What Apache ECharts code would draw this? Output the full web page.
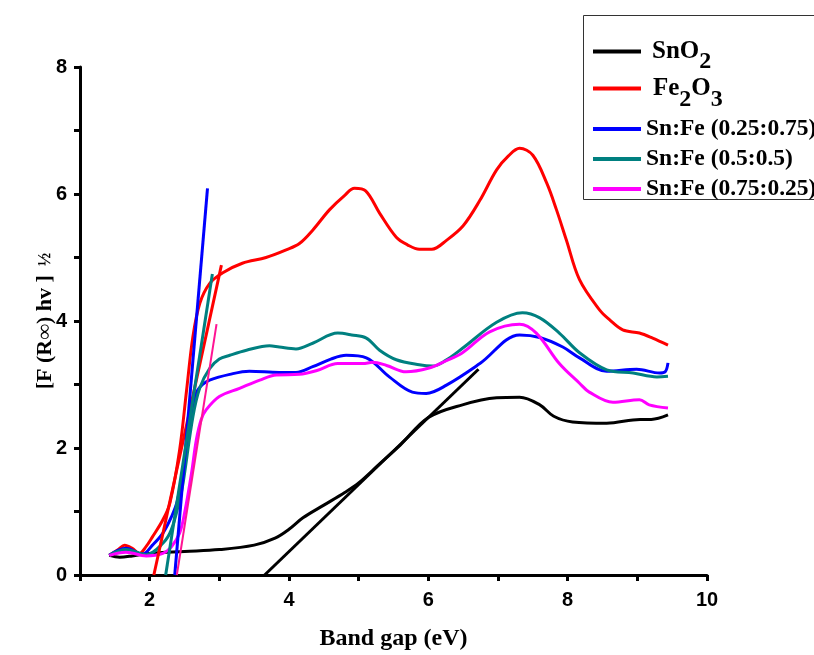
<!DOCTYPE html>
<html>
<head>
  <meta charset="UTF-8">
  <title>band-gap</title>
  <style>
    html, body { margin:0; padding:0; background:#fff; }
    #chart { width:814px; height:655px; }
  </style>
</head>
<body>
  <div id="chart"></div>
  <script src="https://cdn.jsdelivr.net/npm/echarts@6/dist/echarts.min.js"></script>
  <script>
    // SnO2
    var sno2X = [1.42, 1.57, 1.75, 2.0, 2.5, 3.0, 3.5, 3.8, 4.0, 4.2, 4.5, 4.8, 5.0, 5.3, 5.6, 6.0, 6.49, 6.98, 7.31, 7.6, 7.8, 8.07, 8.56, 9.04, 9.2, 9.44]
    var sno2Y = [0.31, 0.28, 0.30, 0.34, 0.37, 0.40, 0.47, 0.58, 0.72, 0.90, 1.10, 1.30, 1.45, 1.75, 2.05, 2.48, 2.68, 2.79, 2.80, 2.68, 2.50, 2.41, 2.39, 2.45, 2.45, 2.52]
    // Fe2O3
    var fe2o3X = [1.42, 1.55, 1.64, 1.75, 1.85, 1.95, 2.04, 2.19, 2.29, 2.43, 2.53, 2.62, 2.72, 2.86, 3.05, 3.33, 3.67, 3.96, 4.15, 4.34, 4.58, 4.8, 4.94, 5.1, 5.3, 5.54, 5.7, 5.87, 6.05, 6.26, 6.5, 6.74, 6.98, 7.15, 7.31, 7.5, 7.7, 7.84, 7.98, 8.17, 8.46, 8.6, 8.79, 9.03, 9.22, 9.44]
    var fe2o3Y = [0.31, 0.40, 0.47, 0.42, 0.34, 0.45, 0.60, 0.87, 1.13, 1.97, 2.91, 3.75, 4.28, 4.59, 4.76, 4.91, 5.00, 5.12, 5.22, 5.43, 5.75, 5.98, 6.09, 6.05, 5.70, 5.32, 5.20, 5.13, 5.13, 5.27, 5.50, 5.90, 6.38, 6.60, 6.72, 6.61, 6.17, 5.75, 5.28, 4.65, 4.17, 4.02, 3.86, 3.81, 3.73, 3.62]
    // Sn:Fe (0.25:0.75)
    var s25X = [1.42, 1.66, 1.9, 2.04, 2.19, 2.31, 2.40, 2.57, 2.67, 2.76, 2.86, 3.15, 3.43, 3.86, 4.1, 4.34, 4.6, 4.82, 5.11, 5.44, 5.77, 5.97, 6.26, 6.74, 7.31, 7.6, 7.93, 8.17, 8.56, 8.99, 9.32, 9.4, 9.44]
    var s25Y = [0.31, 0.42, 0.33, 0.47, 0.66, 0.91, 1.18, 2.23, 2.87, 3.00, 3.07, 3.16, 3.21, 3.19, 3.19, 3.28, 3.40, 3.46, 3.42, 3.12, 2.88, 2.86, 2.99, 3.33, 3.78, 3.74, 3.59, 3.42, 3.21, 3.24, 3.18, 3.20, 3.34]
    // Sn:Fe (0.5:0.5)
    var s50X = [1.42, 1.66, 1.95, 2.19, 2.31, 2.43, 2.48, 2.62, 2.72, 2.86, 3.0, 3.15, 3.39, 3.72, 3.86, 4.1, 4.34, 4.7, 4.9, 5.11, 5.3, 5.54, 5.87, 6.06, 6.25, 6.49, 6.98, 7.35, 7.6, 7.88, 8.17, 8.56, 8.94, 9.28, 9.44]
    var s50Y = [0.31, 0.40, 0.32, 0.50, 0.71, 1.18, 1.45, 2.49, 2.95, 3.25, 3.40, 3.46, 3.54, 3.61, 3.59, 3.56, 3.65, 3.81, 3.78, 3.73, 3.54, 3.39, 3.31, 3.29, 3.38, 3.57, 3.98, 4.13, 4.05, 3.81, 3.50, 3.23, 3.18, 3.12, 3.13]
    // Sn:Fe (0.75:0.25)
    var s75X = [1.42, 1.66, 1.95, 2.19, 2.31, 2.43, 2.5, 2.6, 2.67, 2.74, 2.81, 3.0, 3.29, 3.58, 3.82, 4.15, 4.4, 4.7, 5.06, 5.2, 5.4, 5.68, 6.01, 6.25, 6.49, 6.88, 7.31, 7.55, 7.88, 8.17, 8.31, 8.65, 9.03, 9.17, 9.44]
    var s75Y = [0.31, 0.36, 0.30, 0.34, 0.44, 0.66, 0.97, 1.60, 2.13, 2.45, 2.60, 2.81, 2.94, 3.07, 3.15, 3.16, 3.22, 3.33, 3.33, 3.35, 3.30, 3.20, 3.26, 3.37, 3.50, 3.83, 3.95, 3.81, 3.33, 3.02, 2.88, 2.72, 2.76, 2.68, 2.63]

    // linear fits (x, y end points)
    var fitSnO2 = [[3.65, 0], [6.72, 3.24]]
    var fitFe2O3 = [[2.06, 0], [3.03, 4.88]]
    var fit25 = [[2.36, 0], [2.83, 6.09]]
    var fit50 = [[2.23, 0], [2.90, 4.74]]
    var fit75 = [[2.39, 0], [2.96, 3.95]]

    var names = ['SnO2', 'Fe2O3', 'Sn:Fe (0.25:0.75)', 'Sn:Fe (0.5:0.5)', 'Sn:Fe (0.75:0.25)']
    var colors = ['#000000', '#ff0000', '#0000ff', '#008080', '#ff00ff']
    var legendTops = [39, 76, 117, 147, 177]

    function zip(xs, ys) {
      return xs.map(function (x, i) { return [x, ys[i]] })
    }

    function curve(name, color, data) {
      return {
        name: name, type: 'line', data: data,
        showSymbol: false, smooth: 0.35,
        lineStyle: { color: color, width: 3 },
        itemStyle: { color: color },
        z: 3
      }
    }
    function fit(color, data, w) {
      return {
        name: 'fit', type: 'line', data: data,
        showSymbol: false, silent: true,
        lineStyle: { color: color, width: w },
        z: 4
      }
    }

    function serif(size, extra) {
      return Object.assign({ fontFamily: 'Liberation Serif', fontWeight: 'bold', fontSize: size, color: '#000' }, extra)
    }

    var legendRich = {
      n1: serif(25, { lineHeight: 44, verticalAlign: 'middle', padding: [0, 0, 0, 6] }),
      n2: serif(25, { lineHeight: 46, verticalAlign: 'middle', padding: [0, 0, 0, 7] }),
      m: serif(25, { lineHeight: 46, verticalAlign: 'middle' }),
      s: serif(24, { lineHeight: 30, verticalAlign: 'bottom' }),
      p: serif(23.5, { lineHeight: 30 })
    }

    var legends = names.map(function (n, i) {
      return {
        data: [{ name: n, icon: 'rect' }],
        left: 593, top: legendTops[i],
        padding: 0,
        itemWidth: 48, itemHeight: 4,
        formatter: function (n) {
          if (n === 'SnO2') return '{n1|SnO}{s|2}'
          if (n === 'Fe2O3') return '{n2|Fe}{s|2}{m|O}{s|3}'
          return '{p|' + n + '}'
        },
        textStyle: { rich: legendRich }
      }
    })

    var myChart = echarts.init(document.getElementById('chart'))
    var option = {
      backgroundColor: '#fff',
      animation: false,
      grid: { left: 80, right: 107, top: 67, bottom: 80, outerBoundsMode: 'none' },
      graphic: [{
        type: 'rect', left: 581, top: 13, z: -1,
        shape: { width: 260, height: 184 },
        style: { fill: 'none', stroke: '#333', lineWidth: 1 }
      }],
      legend: legends,
      xAxis: {
        type: 'value', min: 1, max: 10, interval: 1,
        name: 'Band gap (eV)', nameLocation: 'middle', nameGap: 52,
        nameMoveOverlap: false,
        nameTextStyle: serif(24),
        axisLine: { onZero: false, lineStyle: { color: '#000', width: 3 } },
        axisTick: { length: 6, lineStyle: { color: '#000', width: 3 } },
        axisLabel: {
          margin: 15, color: '#000', fontFamily: 'Liberation Sans', fontWeight: 'bold', fontSize: 20,
          formatter: function (v) { return v % 2 === 0 ? v : '' }
        },
        splitLine: { show: false }
      },
      yAxis: {
        type: 'value', min: 0, max: 8, interval: 1,
        name: '{a|[F (R∞) hv ]}{b|  ½}', nameLocation: 'middle', nameGap: 23, nameRotate: 90,
        nameMoveOverlap: false,
        nameTextStyle: {
          rich: {
            a: serif(22, { lineHeight: 24 }),
            b: serif(18, { lineHeight: 24 })
          }
        },
        axisLine: { lineStyle: { color: '#000', width: 3 } },
        axisTick: { length: 6, lineStyle: { color: '#000', width: 3 } },
        axisLabel: {
          margin: 13, color: '#000', fontFamily: 'Liberation Sans', fontWeight: 'bold', fontSize: 20,
          formatter: function (v) { return v % 2 === 0 ? v : '' }
        },
        splitLine: { show: false }
      },
      series: [
        curve(names[0], colors[0], zip(sno2X, sno2Y)),
        curve(names[1], colors[1], zip(fe2o3X, fe2o3Y)),
        curve(names[2], colors[2], zip(s25X, s25Y)),
        curve(names[3], colors[3], zip(s50X, s50Y)),
        curve(names[4], colors[4], zip(s75X, s75Y)),
        fit('#000000', fitSnO2, 3),
        fit('#ff0000', fitFe2O3, 3),
        fit('#0000ff', fit25, 3),
        fit('#008080', fit50, 3),
        fit('#ff1493', fit75, 2)
      ]
    }
    myChart.setOption(option)
  </script>
</body>
</html>
